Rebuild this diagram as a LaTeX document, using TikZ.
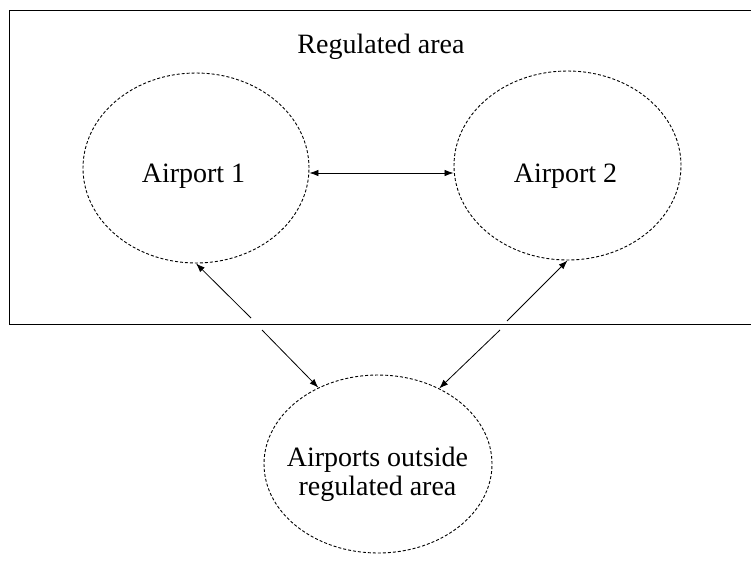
\documentclass[tikz,border=0pt]{standalone}
\usepackage{fontspec}
\setmainfont{Liberation Serif}
\usetikzlibrary{shapes.geometric,arrows.meta}
\begin{document}
\begin{tikzpicture}[x=1pt,y=-1pt,
  area/.style={ellipse,draw,dash pattern=on 3pt off 2pt,line width=0.9pt,inner sep=0pt},
  txt/.style={font=\fontsize{28}{29}\selectfont,inner sep=0pt},
  tip/.style={Latex[length=9pt,width=6.5pt]},
  conn/.style={line width=0.8pt,-{Latex[length=9pt,width=6.5pt]}}]
\useasboundingbox (0,0) rectangle (751,563);
\node[draw,line width=1.4pt,minimum width=752pt,minimum height=314pt,anchor=north west,inner sep=0pt] (reg) at (9,10) {};
\node[txt,anchor=base] (regt) at (381,53) {Regulated area};
\node[area,minimum width=226pt,minimum height=190pt] (a1) at (196,168) {};
\node[area,minimum width=227pt,minimum height=189pt] (a2) at (567.5,165.5) {};
\node[area,minimum width=228pt,minimum height=178pt] (b) at (378,464) {};
\node[txt,anchor=base] (a1t) at (193.5,182) {Airport 1};
\node[txt,anchor=base] (a2t) at (565.5,182) {Airport 2};
\node[txt,align=center] (bt) at (377.5,474) {Airports outside\\regulated area};
\coordinate (g1) at (251,318);
\coordinate (g2) at (262,330);
\coordinate (g3) at (507,321);
\coordinate (g4) at (500,330);
\draw[line width=0.8pt,{Latex[length=9pt,width=6.5pt]}-{Latex[length=9pt,width=6.5pt]}] ([yshift=-5pt]a1.east) -- ([yshift=-7.5pt]a2.west);
\draw[conn] (g1) -- (a1.south);
\draw[conn] (g2) -- (b.128);
\draw[conn] (g3) -- (a2.south);
\draw[conn] (g4) -- (b.51);
\end{tikzpicture}
\end{document}
